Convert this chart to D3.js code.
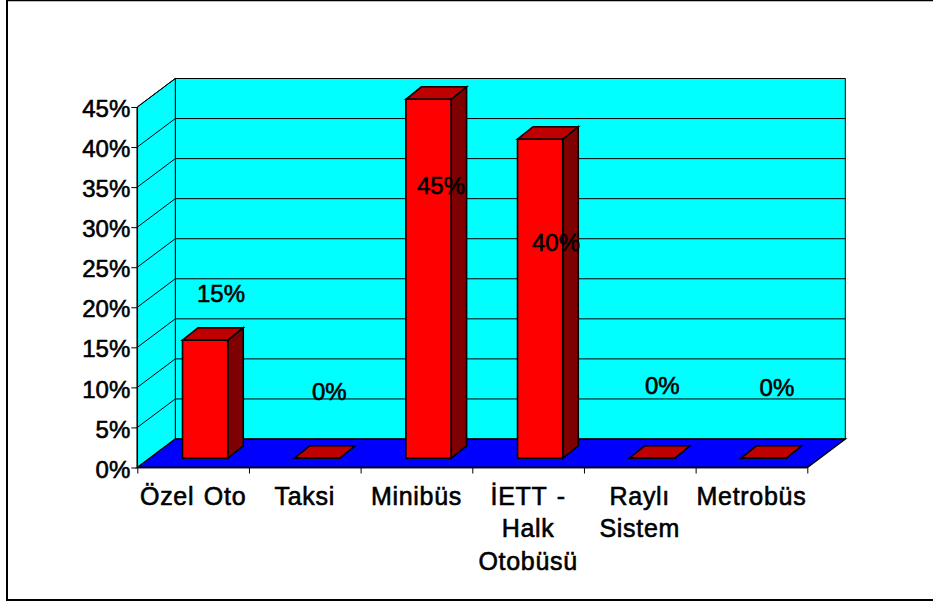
<!DOCTYPE html>
<html><head><meta charset="utf-8">
<script src="https://cdn.jsdelivr.net/npm/d3@7"></script>
<style>html,body{margin:0;padding:0;background:#fff}svg{display:block}text{font-family:"Liberation Sans",Arial,sans-serif;fill:#000;stroke:#000;stroke-width:0.6px}</style>
</head><body><svg id="c" width="933" height="603"></svg>
<script>
const categories = [["Özel Oto"],["Taksi"],["Minibüs"],["İETT -","Halk","Otobüsü"],["Raylı","Sistem"],["Metrobüs"]];
const shares = [14.8,0,45,40,0,0];
const shareLabels = ["15%","0%","45%","40%","0%","0%"];
const axisTicks = [0,5,10,15,20,25,30,35,40,45];

const labelShiftX = [15.9,12.5,12.5,15.9,10.5,13.5];
const labelRiseY = [38,58,-94.5,-112,64,62];

const L=137.3,R=807.3,B=467.5,T=107,DX=38,DY=28.5;
const barDX=15.5,barDY=12.5,floorX=12,floorY=9.2;
const svg=d3.select("#c");
const x=d3.scaleBand().domain(d3.range(categories.length)).range([L,R]);
const xInner=d3.scaleBand().domain(x.domain()).range([L+floorX,R+floorX]).paddingInner(0.595).paddingOuter(0.2975);
const y=d3.scaleLinear().domain([0,45]).range([B,T]);
const yBar=d3.scaleLinear().domain([0,45]).range([B-floorY,B-floorY-359]);
const poly=(pts,fill,sw=1)=>svg.append("polygon").attr("points",pts.map(p=>p.join(",")).join(" ")).attr("fill",fill).attr("stroke","#000").attr("stroke-width",sw).attr("stroke-linejoin","miter");
const line=(a,b,sw=1)=>svg.append("line").attr("x1",a[0]).attr("y1",a[1]).attr("x2",b[0]).attr("y2",b[1]).attr("stroke","#000").attr("stroke-width",sw);

svg.append("rect").attr("x",7).attr("y",0.25).attr("width",940).attr("height",599.75).attr("fill","#fff").attr("stroke","#000").attr("stroke-width",2);
svg.append("rect").attr("x",0).attr("y",-2).attr("width",933).attr("height",2).attr("fill","#000");

poly([[L+DX,T-DY],[R+DX,T-DY],[R+DX,B-DY],[L+DX,B-DY]],"#00ffff");
poly([[L,T],[L+DX,T-DY],[L+DX,B-DY],[L,B]],"#00ffff");
poly([[L,B],[L+DX,B-DY],[R+DX,B-DY],[R,B]],"#0000ff",1.5);
axisTicks.forEach(t=>{
  if(t===0) return;
  line([L,y(t)],[L+DX,y(t)-DY]);
  line([L+DX,y(t)-DY],[R+DX,y(t)-DY]);
});
line([L,T],[L,B],1.5);
line([L,B],[R,B],1.5);
const yAxis=d3.axisLeft(y).tickValues(axisTicks).tickSize(6).tickSizeOuter(0).tickFormat(d=>d+"%");
const ga=svg.append("g").attr("transform",`translate(${L},0)`).call(yAxis);
ga.select(".domain").remove();
ga.selectAll("line").attr("stroke","#000");
ga.selectAll("text").attr("x",-7).attr("y",1).attr("dy","0.36em").attr("font-size",24).attr("font-family",null);
const xAxis=d3.axisBottom(d3.scaleLinear().domain([0,6]).range([L,R])).tickValues(d3.range(7)).tickSize(6).tickFormat("");
const gx=svg.append("g").attr("transform",`translate(0,${B})`).call(xAxis);
gx.select(".domain").remove();
gx.selectAll("line").attr("stroke","#000");

categories.forEach((c,i)=>{
  const x0=xInner(i),x1=x0+xInner.bandwidth(),yb=yBar(0),yt=yBar(shares[i]);
  poly([[x1,yt],[x1+barDX,yt-barDY],[x1+barDX,yb-barDY],[x1,yb]],"#7f0000",1.6);
  poly([[x0,yt],[x0+barDX,yt-barDY],[x1+barDX,yt-barDY],[x1,yt]],"#bf0000",1.6);
  poly([[x0,yt],[x1,yt],[x1,yb],[x0,yb]],"#ff0000",1.6);
});
categories.forEach((c,i)=>{
  const cx=x(i)+x.bandwidth()/2;
  const t=svg.append("text").attr("text-anchor","middle").attr("font-size",25).style("word-spacing","2px").style("letter-spacing","0.7px");
  c.forEach((s,j)=>t.append("tspan").attr("x",cx).attr("y",504.5+j*32.5).text(s));
});
shareLabels.forEach((s,i)=>{
  const cx=xInner(i)+xInner.bandwidth()/2;
  svg.append("text").attr("text-anchor","middle").attr("font-size",24)
    .attr("x",cx+labelShiftX[i]).attr("y",yBar(shares[i])-labelRiseY[i]).text(s);
});
</script></body></html>
